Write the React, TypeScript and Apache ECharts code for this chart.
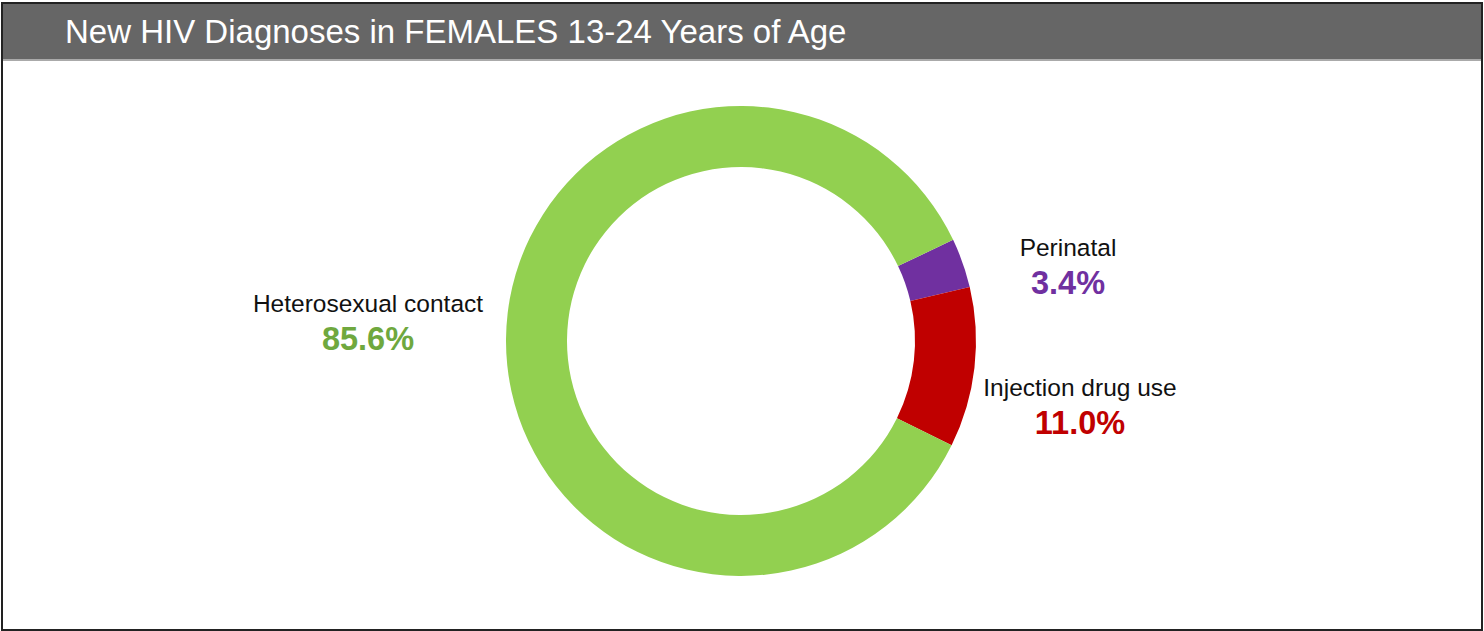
import React, { useEffect, useRef } from "react";
import * as echarts from "echarts";

const titleText = "New HIV Diagnoses in FEMALES 13-24 Years of Age";
const categories = ["Perinatal", "Injection drug use", "Heterosexual contact"];
const values = [3.4, 11.0, 85.6];
const sliceColors = ["#7030A0", "#C00000", "#92D050"];
const labelColors = ["#7030A0", "#C00000", "#6FA83E"];
const labelPositions = [
  [1068, 265],
  [1080, 405],
  [368, 321],
];

export default function App() {
  const ref = useRef<HTMLDivElement>(null);
  useEffect(() => {
    document.body.style.margin = "0";
    const chart = echarts.init(ref.current!, null, { renderer: "svg" });
    const font = "'Liberation Sans', Arial, Helvetica, sans-serif";
    chart.setOption({
      animation: false,
      backgroundColor: "#ffffff",
      graphic: [
        {
          type: "rect",
          z: 0,
          shape: { x: 2, y: 3, width: 1480, height: 627 },
          style: { fill: "#ffffff", stroke: "#222222", lineWidth: 2 },
        },
        {
          type: "rect",
          z: 1,
          shape: { x: 3, y: 4, width: 1478, height: 55 },
          style: { fill: "#666666" },
        },
        {
          type: "rect",
          z: 1,
          shape: { x: 3, y: 59, width: 1478, height: 2 },
          style: { fill: "#aaaaaa" },
        },
        {
          type: "text",
          z: 2,
          x: 65,
          y: 31,
          style: {
            text: titleText,
            fill: "#ffffff",
            font: `33px ${font}`,
            verticalAlign: "middle",
            align: "left",
          },
        },
      ],
      series: [
        {
          type: "pie",
          center: [741, 341],
          radius: [174, 235],
          startAngle: 25.5,
          clockwise: true,
          z: 3,
          silent: true,
          data: categories.map((c, i) => ({
            name: c,
            value: values[i],
            itemStyle: { color: sliceColors[i] },
            label: {
              rich: {
                n: { fontSize: 24.5, color: "#111111", fontFamily: font, lineHeight: 35 },
                v: { fontSize: 32.5, fontWeight: "bold", color: labelColors[i], fontFamily: font, lineHeight: 35 },
              },
            },
          })),
          label: {
            show: true,
            position: "outside",
            formatter: (p: any) => `{n|${p.name}}\n{v|${values[p.dataIndex].toFixed(1)}%}`,
            align: "center",
          },
          labelLine: { show: false },
          labelLayout: (p: any) => ({
            x: labelPositions[p.dataIndex][0],
            y: labelPositions[p.dataIndex][1],
            align: "center",
            verticalAlign: "middle",
          }),
        },
      ],
    });
    return () => chart.dispose();
  }, []);
  return (
    <div
      ref={ref}
      style={{ position: "absolute", left: 0, top: 0, width: 1484, height: 631 }}
    />
  );
}
